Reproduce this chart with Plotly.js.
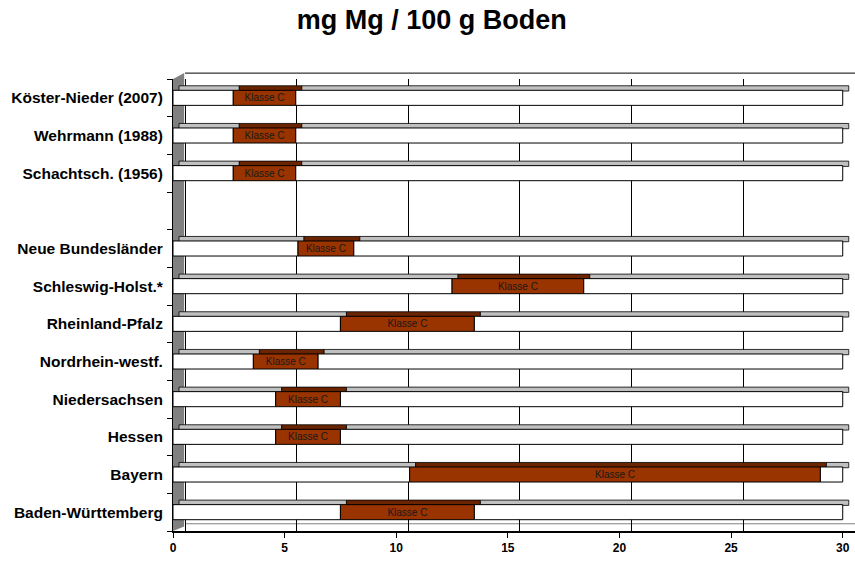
<!DOCTYPE html>
<html><head><meta charset="utf-8">
<script src="https://cdn.plot.ly/plotly-3.0.1.min.js"></script>
<style>html,body{margin:0;padding:0;background:#fff}</style>
</head><body><div id="chart" style="width:855px;height:561px"></div>
<script>
// Data (bottom to top)
const categories = ["Baden-Württemberg","Bayern","Hessen","Niedersachsen","Nordrhein-westf.","Rheinland-Pfalz","Schleswig-Holst.*","Neue Bundesländer"," ","Schachtsch. (1956)","Wehrmann (1988)","Köster-Nieder (2007)"];
const klasseCStart = [7.5, 10.6, 4.6, 4.6, 3.6, 7.5, 12.5, 5.6, null, 2.7, 2.7, 2.7];
const klasseCEnd   = [13.5, 29.0, 7.5, 7.5, 6.5, 13.5, 18.4, 8.1, null, 5.5, 5.5, 5.5];
const segmentLabel = "Klasse C";
const axisMax = 30;
const xTicks = [0, 5, 10, 15, 20, 25, 30];

// derived
const lenBefore = klasseCStart.map(v => v == null ? null : v);
const lenC = klasseCStart.map((s, i) => s == null ? null : klasseCEnd[i] - s);
const lenAfter = klasseCEnd.map(e => e == null ? null : axisMax - e);
const baseZero = categories.map(() => 0);

const depth = 0.27; // 3D shift in x units
const WHITE = "#ffffff", BROWN = "#993300", TOPGRAY = "#c0c0c0", TOPBROWN = "#6b2400";
const line = {color: "#000", width: 1};

function bar(base, len, color, front, extra) {
  return Object.assign({
    type: "bar", orientation: "h", y: categories, x: len,
    base: front ? base : base.map(b => b == null ? null : b + depth),
    width: front ? 0.4 : 0.14, offset: front ? -0.2 : 0.18,
    marker: {color: color, line: front ? line : {color: "#000", width: 0.8}},
    hoverinfo: "skip", showlegend: false
  }, extra || {});
}

const traces = [
  bar(baseZero, lenBefore, TOPGRAY, false),
  bar(klasseCStart, lenC, TOPBROWN, false),
  bar(klasseCEnd, lenAfter, TOPGRAY, false),
  bar(baseZero, lenBefore, WHITE, true),
  bar(klasseCStart, lenC, BROWN, true, {
    text: categories.map((c, i) => klasseCStart[i] == null ? "" : segmentLabel),
    textposition: "inside", insidetextanchor: "middle", textangle: 0,
    constraintext: "none",
    textfont: {family: "Liberation Sans, Arial, sans-serif", size: 10, color: "#1a1a1a"}
  }),
  bar(klasseCEnd, lenAfter, WHITE, true)
];

const layout = {
  width: 855, height: 561,
  margin: {l: 173, r: 0, t: 79, b: 30},
  paper_bgcolor: "#fff", plot_bgcolor: "#fff",
  barmode: "overlay",
  title: {text: "mg Mg / 100 g Boden", x: 0.505, xref: "container", xanchor: "center",
          y: 0.965, yref: "container", yanchor: "middle",
          font: {family: "Liberation Sans, Arial, sans-serif", size: 27, weight: 700, color: "#000"}},
  xaxis: {range: [0, 30.55], tickvals: xTicks, showgrid: false, zeroline: false,
          showline: true, linecolor: "#000", linewidth: 2, ticks: "outside", ticklen: 5, tickcolor: "#000",
          tickfont: {family: "Liberation Sans, Arial, sans-serif", size: 12, weight: 700, color: "#000"}},
  xaxis2: {overlaying: "x", range: [-0.54, 30.01], tickvals: xTicks, showgrid: true,
           gridcolor: "#000", gridwidth: 1, showticklabels: false, ticks: "", zeroline: false, showline: false},
  yaxis: {type: "category", categoryorder: "array", categoryarray: categories, range: [-0.5, 11.5],
          tickson: "boundaries", ticks: "outside", ticklen: 5, tickcolor: "#000", ticklabelstandoff: 6,
          showline: true, linecolor: "#000", linewidth: 1, showgrid: false, zeroline: false,
          tickfont: {family: "Liberation Sans, Arial, sans-serif", size: 15.5, weight: 700, color: "#000"}},
  shapes: [
    {type: "path", xref: "x", yref: "paper", layer: "between",
     path: "M 0 0 L 0 1.0 L 0.5 1.013 L 0.5 0.01 Z", fillcolor: "#808080", line: {width: 0}},
    {type: "line", xref: "x", yref: "paper", x0: 0.54, x1: 30.55, y0: 1.013, y1: 1.013,
     line: {color: "#000", width: 1}, layer: "between"},
    {type: "line", xref: "x", yref: "paper", x0: 0.54, x1: 30.55, y0: 0.016, y1: 0.016,
     line: {color: "#808080", width: 1}, layer: "between"}
  ]
};

Plotly.newPlot("chart", traces.concat([{type: "scatter", x: [0], y: [categories[0]], xaxis: "x2",
  mode: "markers", marker: {opacity: 0}, hoverinfo: "skip", showlegend: false}]), layout,
  {staticPlot: true, displayModeBar: false});
</script>
</body></html>
